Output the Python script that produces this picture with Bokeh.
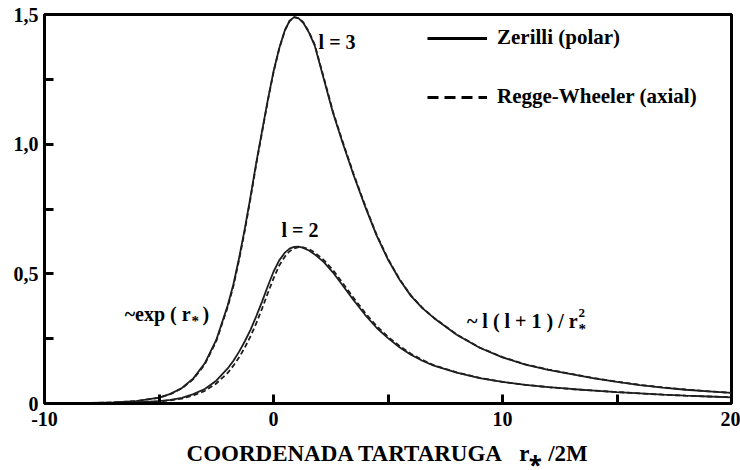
from bokeh.plotting import figure
from bokeh.models import Range1d, FixedTicker, CustomJSTickFormatter, Label, Legend, LegendItem
from bokeh.embed import file_html
from bokeh.resources import INLINE

# tortoise coordinate r*/2M
r_star = [-8, -7, -6, -5, -4.5, -4, -3.5, -3, -2.5, -2, -1.75, -1.5, -1.25, -1, -0.75,
          -0.5, -0.25, 0, 0.25, 0.5, 0.7, 0.9, 1.1, 1.3, 1.55, 1.8, 2.2, 2.6, 3.0, 3.5,
          4.0, 4.5, 5.0, 5.5, 6.0, 6.5, 7, 8, 9, 10, 11, 12, 13, 14, 15, 16, 17, 18, 19, 20]

zerilli_l3 = [0.002, 0.004, 0.009, 0.023, 0.037, 0.060, 0.097, 0.155, 0.245, 0.378, 0.460,
              0.562, 0.675, 0.800, 0.930, 1.050, 1.170, 1.280, 1.370, 1.440, 1.475, 1.490,
              1.485, 1.468, 1.430, 1.380, 1.250, 1.120, 1.010, 0.880, 0.760, 0.648, 0.555,
              0.478, 0.415, 0.368, 0.330, 0.265, 0.215, 0.178, 0.150, 0.130, 0.113, 0.097,
              0.083, 0.071, 0.061, 0.053, 0.047, 0.041]

rw_l3 = [0.002, 0.004, 0.009, 0.022, 0.036, 0.058, 0.094, 0.151, 0.240, 0.372, 0.453,
         0.555, 0.668, 0.793, 0.924, 1.045, 1.166, 1.277, 1.368, 1.439, 1.475, 1.490,
         1.486, 1.470, 1.433, 1.384, 1.255, 1.125, 1.015, 0.885, 0.764, 0.651, 0.558,
         0.480, 0.417, 0.369, 0.331, 0.266, 0.216, 0.179, 0.151, 0.131, 0.114, 0.098,
         0.084, 0.072, 0.062, 0.054, 0.047, 0.041]

zerilli_l2 = [0.001, 0.002, 0.004, 0.009, 0.014, 0.022, 0.036, 0.056, 0.088, 0.135, 0.165,
              0.200, 0.240, 0.285, 0.337, 0.393, 0.452, 0.508, 0.552, 0.582, 0.597, 0.604,
              0.605, 0.600, 0.590, 0.575, 0.545, 0.505, 0.458, 0.398, 0.342, 0.292, 0.252,
              0.217, 0.188, 0.165, 0.146, 0.119, 0.098, 0.083, 0.072, 0.063, 0.056, 0.050,
              0.044, 0.039, 0.034, 0.030, 0.027, 0.024]

rw_l2 = [0.001, 0.002, 0.003, 0.008, 0.012, 0.019, 0.031, 0.049, 0.077, 0.118, 0.146,
         0.178, 0.216, 0.260, 0.310, 0.366, 0.425, 0.482, 0.532, 0.567, 0.587, 0.598,
         0.603, 0.602, 0.595, 0.582, 0.553, 0.514, 0.467, 0.407, 0.350, 0.299, 0.257,
         0.222, 0.192, 0.168, 0.148, 0.120, 0.099, 0.083, 0.072, 0.063, 0.056, 0.050,
         0.044, 0.039, 0.034, 0.030, 0.027, 0.024]

x_major = [-10, 0, 10, 20]
x_minor = [-5, 5, 15]
y_major = [0, 0.5, 1.0, 1.5]
y_minor = [0.25, 0.75, 1.25]

FONT = "Liberation Serif"
NB = "\u00a0"

p = figure(width=740, height=470, x_range=Range1d(-10, 20), y_range=Range1d(0, 1.5),
           output_backend="svg", toolbar_location=None,
           min_border_left=44, min_border_right=9, min_border_top=14, min_border_bottom=67)
p.grid.visible = False
p.outline_line_color = "black"
p.outline_line_width = 3
p.background_fill_color = "white"

p.xaxis.ticker = FixedTicker(ticks=x_major, minor_ticks=x_minor)
p.yaxis.ticker = FixedTicker(ticks=y_major, minor_ticks=y_minor)
p.xaxis.formatter = CustomJSTickFormatter(code="return tick.toString();")
p.yaxis.formatter = CustomJSTickFormatter(
    code="return tick === 0 ? '0' : tick.toFixed(1).replace('.', ',');")
for ax in (p.xaxis, p.yaxis):
    ax.axis_line_width = 3
    ax.axis_line_color = "black"
    ax.major_tick_in = 9
    ax.major_tick_out = 0
    ax.minor_tick_in = 9
    ax.minor_tick_out = 0
    ax.major_tick_line_width = 3
    ax.minor_tick_line_width = 3
    ax.major_label_text_font = FONT
    ax.major_label_text_font_style = "bold"
    ax.major_label_text_font_size = "20px"
    ax.major_label_text_color = "black"
p.xaxis.major_label_standoff = 8
p.yaxis.major_label_standoff = 6

p.xaxis.axis_label = "COORDENADA TARTARUGA" + NB * 3 + "r\u204e" + NB + "/2M"
p.xaxis.axis_label_text_font = FONT
p.xaxis.axis_label_text_font_style = "bold"
p.xaxis.axis_label_text_font_size = "23px"
p.xaxis.axis_label_text_color = "black"
p.xaxis.axis_label_standoff = 12

CURVE = "#1e1e1e"
p.line(r_star, zerilli_l3, line_color=CURVE, line_width=1.8)
p.line(r_star, rw_l3, line_color=CURVE, line_width=1.8, line_dash="5 3")
p.line(r_star, zerilli_l2, line_color=CURVE, line_width=1.8)
p.line(r_star, rw_l2, line_color=CURVE, line_width=1.8, line_dash="5 3")

# heavier line samples for the legend (hidden renderers)
leg_solid = p.line(r_star, zerilli_l3, line_color="black", line_width=3, visible=False)
leg_dash = p.line(r_star, rw_l3, line_color="black", line_width=3, line_dash="11 6",
                  visible=False)

legend = Legend(items=[LegendItem(label="Zerilli (polar)", renderers=[leg_solid]),
                       LegendItem(label="Regge-Wheeler (axial)", renderers=[leg_dash])],
                location=(383, 294), glyph_width=60, glyph_height=20, label_height=20,
                spacing=34, label_standoff=10, padding=0, margin=0,
                border_line_alpha=0, background_fill_alpha=0,
                label_text_font=FONT, label_text_font_style="bold",
                label_text_font_size="21px", label_text_color="black")
p.add_layout(legend)

def lab(x, y, text, size="20px", align="left", xo=0, yo=0):
    p.add_layout(Label(x=x, y=y, text=text, x_offset=xo, y_offset=yo,
                       text_font=FONT, text_font_style="bold", text_font_size=size,
                       text_align=align, text_baseline="middle", text_color="black"))

lab(1.97, 1.395, "l = 3")
lab(0.35, 0.67, "l = 2")
# ~exp ( r* )
lab(-3.62, 0.347, "~exp ( r", align="right")
lab(-3.62, 0.347, "*", size="15px", xo=1, yo=-7)
lab(-3.62, 0.347, NB + ")", xo=7)
# ~ l ( l + 1 ) / r*^2
lab(13.28, 0.32, "~ l ( l + 1 ) / r", align="right")
lab(13.28, 0.32, "2", size="13px", xo=1, yo=8)
lab(13.28, 0.32, "*", size="15px", xo=1, yo=-8)

open("out.html", "w").write(file_html(p, INLINE))
